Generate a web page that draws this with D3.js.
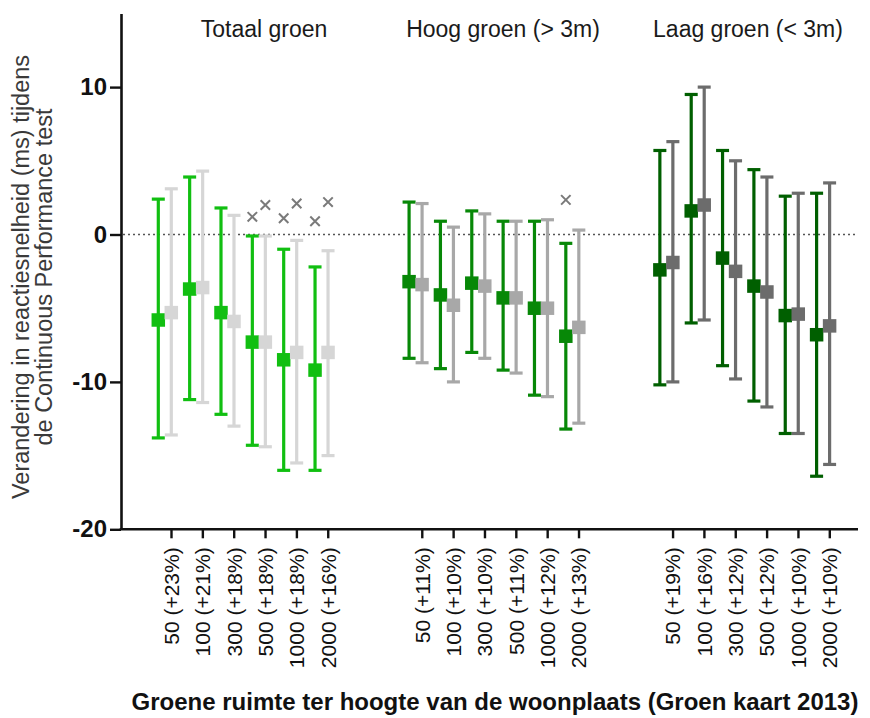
<!DOCTYPE html>
<html>
<head>
<meta charset="utf-8">
<script src="https://cdn.jsdelivr.net/npm/d3@7"></script>
<style>
  html, body { margin: 0; padding: 0; background: #fff; }
  svg { display: block; font-family: "Liberation Sans", Arial, sans-serif; }
</style>
</head>
<body>
<svg id="chart" width="870" height="718"></svg>
<script>
// Buffer radii (m) and panels
const panels = ["Totaal groen", "Hoog groen (> 3m)", "Laag groen (< 3m)"];
const buffers = ["50", "100", "300", "500", "1000", "2000"];

// Tick labels: buffer (increase in green space)
const tickLabels = [
  ["50 (+23%)", "100 (+21%)", "300 (+18%)", "500 (+18%)", "1000 (+18%)", "2000 (+16%)"],
  ["50 (+11%)", "100 (+10%)", "300 (+10%)", "500 (+11%)", "1000 (+12%)", "2000 (+13%)"],
  ["50 (+19%)", "100 (+16%)", "300 (+12%)", "500 (+12%)", "1000 (+10%)", "2000 (+10%)"]
];

// First series (green): estimate with 95% interval
const greenMean = [
  [-5.8, -3.7, -5.3, -7.3, -8.5, -9.2],
  [-3.2, -4.1, -3.3, -4.3, -5.0, -6.9],
  [-2.4, 1.6, -1.6, -3.5, -5.5, -6.8]
];
const greenLow = [
  [-13.8, -11.2, -12.2, -14.3, -16.0, -16.0],
  [-8.4, -9.1, -8.0, -9.2, -10.9, -13.2],
  [-10.2, -6.0, -8.9, -11.3, -13.5, -16.4]
];
const greenHigh = [
  [2.4, 3.9, 1.8, -0.1, -1.0, -2.2],
  [2.2, 0.9, 1.6, 0.9, 0.9, -0.6],
  [5.7, 9.5, 5.7, 4.4, 2.6, 2.8]
];

// Second series (grey): estimate with 95% interval
const greyMean = [
  [-5.3, -3.6, -5.9, -7.3, -8.0, -8.0],
  [-3.4, -4.8, -3.5, -4.3, -5.0, -6.3],
  [-1.9, 2.0, -2.5, -3.9, -5.4, -6.2]
];
const greyLow = [
  [-13.6, -11.4, -13.0, -14.4, -15.5, -15.0],
  [-8.7, -10.0, -8.4, -9.4, -11.0, -12.8],
  [-10.0, -5.8, -9.8, -11.7, -13.5, -15.6]
];
const greyHigh = [
  [3.1, 4.3, 1.3, -0.1, -0.4, -1.1],
  [2.1, 0.5, 1.4, 0.9, 1.0, 0.3],
  [6.3, 10.0, 5.0, 3.9, 2.8, 3.5]
];

// Cross markers above selected intervals
const crossPanel  = [0, 0, 0, 0, 0, 0, 1];
const crossBuffer = ["500", "500", "1000", "1000", "2000", "2000", "2000"];
const crossSeries = ["green", "grey", "green", "grey", "green", "grey", "green"];
const crossValue  = [1.2, 2.0, 1.1, 2.1, 0.9, 2.2, 2.35];

const yTicks = [10, 0, -10, -20];

// Colours per panel
const greenColors = ["#11bf11", "#078807", "#005f00"];
const greyColors  = ["#d6d6d6", "#a8a8a8", "#6c6c6c"];

const svg = d3.select("#chart");

const y = d3.scaleLinear().domain([-20, 15]).range([529.3, 13.4]);

// slot keys: 6 buffers per panel with two empty slots between panels
const slots = [];
panels.forEach((p, pi) => {
  buffers.forEach(b => slots.push(pi + "-" + b));
  if (pi < panels.length - 1) { slots.push("gap" + pi + "a"); slots.push("gap" + pi + "b"); }
});
const x = d3.scalePoint().domain(slots).range([171, 829.3]);

const axisX0 = 121, axisX1 = 858;
const greenOffset = -12.7, greyOffset = 0.3;

// zero reference line
svg.append("line")
  .attr("x1", axisX0 + 2).attr("x2", axisX1)
  .attr("y1", y(0)).attr("y2", y(0))
  .attr("stroke", "#555").attr("stroke-width", 1.4)
  .attr("stroke-dasharray", "2,3");

// y axis
const yAxis = d3.axisLeft(y).tickValues(yTicks).tickSize(11).tickSizeOuter(0).tickFormat(d3.format("d"));
const gy = svg.append("g").attr("transform", `translate(${axisX0},0)`).call(yAxis);
gy.select(".domain").attr("stroke", "#111").attr("stroke-width", 2.6);
gy.selectAll(".tick line").attr("stroke", "#111").attr("stroke-width", 2.4);
gy.selectAll(".tick text")
  .attr("x", -14)
  .attr("fill", "#111")
  .style("font-size", "24px")
  .style("font-weight", "bold")
  .style("font-family", "'Liberation Sans', Arial, sans-serif")
  .text(d => d < 0 ? "-" + Math.abs(d) : d);

// x axis baseline
svg.append("line")
  .attr("x1", axisX0 - 1.3).attr("x2", axisX1)
  .attr("y1", y(-20)).attr("y2", y(-20))
  .attr("stroke", "#111").attr("stroke-width", 2.6);

// x ticks and rotated labels
const tickKeys = [], tickText = [];
panels.forEach((p, pi) => buffers.forEach((b, bi) => { tickKeys.push(pi + "-" + b); tickText.push(tickLabels[pi][bi]); }));
const xAxis = d3.axisBottom(x).tickValues(tickKeys).tickSize(9).tickSizeOuter(0)
  .tickFormat((d, i) => tickText[i]);
const gx = svg.append("g").attr("transform", `translate(0,${y(-20)})`).call(xAxis);
gx.select(".domain").remove();
gx.selectAll(".tick line").attr("stroke", "#111").attr("stroke-width", 2.4);
gx.selectAll(".tick text")
  .attr("transform", "rotate(-90)")
  .attr("x", -18).attr("y", 0).attr("dy", "0.35em")
  .attr("text-anchor", "end")
  .attr("fill", "#111")
  .style("font-size", "21px")
  .style("font-family", "'Liberation Sans', Arial, sans-serif");

// error bars with square markers
function drawSeries(pi, means, lows, highs, offset, color) {
  const g = svg.append("g");
  buffers.forEach((b, bi) => {
    const cx = x(pi + "-" + b) + offset;
    g.append("line")
      .attr("x1", cx).attr("x2", cx)
      .attr("y1", y(highs[pi][bi])).attr("y2", y(lows[pi][bi]))
      .attr("stroke", color).attr("stroke-width", 3.2);
    [highs[pi][bi], lows[pi][bi]].forEach(v => {
      g.append("line")
        .attr("x1", cx - 6.5).attr("x2", cx + 6.5)
        .attr("y1", y(v)).attr("y2", y(v))
        .attr("stroke", color).attr("stroke-width", 3.2);
    });
    const s = 13.5;
    g.append("rect")
      .attr("x", cx - s / 2).attr("y", y(means[pi][bi]) - s / 2)
      .attr("width", s).attr("height", s)
      .attr("fill", color);
  });
}
panels.forEach((p, pi) => {
  drawSeries(pi, greenMean, greenLow, greenHigh, greenOffset, greenColors[pi]);
  drawSeries(pi, greyMean, greyLow, greyHigh, greyOffset, greyColors[pi]);
});

// cross markers
const cross = d3.symbol().type(d3.symbolX).size(60);
crossValue.forEach((v, i) => {
  const cx = x(crossPanel[i] + "-" + crossBuffer[i]) + (crossSeries[i] === "green" ? greenOffset : greyOffset);
  svg.append("path")
    .attr("d", cross)
    .attr("transform", `translate(${cx},${y(v)})`)
    .attr("fill", "none")
    .attr("stroke", "#7a7a7a").attr("stroke-width", 2);
});

// panel titles
const titleX = [264, 503, 748];
panels.forEach((p, pi) => {
  svg.append("text")
    .attr("x", titleX[pi]).attr("y", 37)
    .attr("text-anchor", "middle")
    .attr("fill", "#1a1a1a")
    .style("font-size", "23px")
    .text(p);
});

// y axis title (two lines)
const yTitle = svg.append("text")
  .attr("transform", "translate(0,277) rotate(-90)")
  .attr("text-anchor", "middle")
  .attr("fill", "#3a3a3a")
  .style("font-size", "23.5px");
yTitle.append("tspan").attr("x", 0).attr("y", 29).text("Verandering in reactiesnelheid (ms) tijdens");
yTitle.append("tspan").attr("x", 0).attr("y", 52).text("de Continuous Performance test");

// x axis title
svg.append("text")
  .attr("x", 495).attr("y", 710)
  .attr("text-anchor", "middle")
  .attr("fill", "#111")
  .style("font-size", "24px")
  .style("font-weight", "bold")
  .text("Groene ruimte ter hoogte van de woonplaats (Groen kaart 2013)");
</script>
</body>
</html>
